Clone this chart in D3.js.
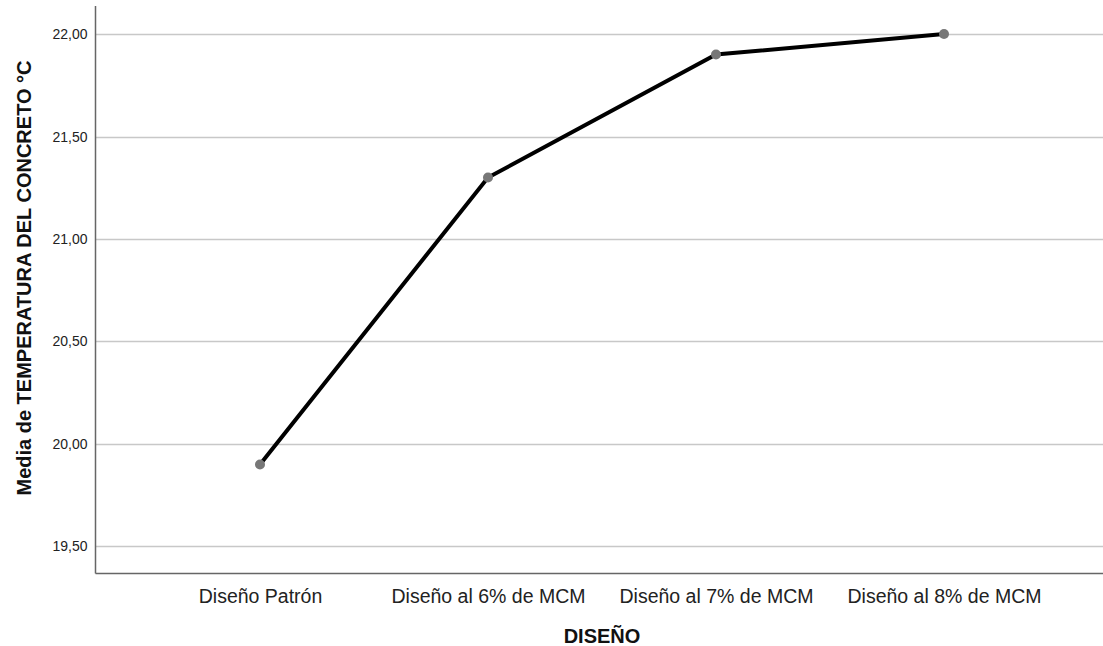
<!DOCTYPE html>
<html><head><meta charset="utf-8">
<script src="https://cdn.jsdelivr.net/npm/d3@7"></script>
<style>body{margin:0;background:#fff}svg{display:block}text{font-family:"Liberation Sans",Arial,sans-serif}</style>
</head><body><svg id="c" width="1103" height="646"></svg>
<script>
const categories = ["Diseño Patrón","Diseño al 6% de MCM","Diseño al 7% de MCM","Diseño al 8% de MCM"];
const values = [19.90, 21.30, 21.90, 22.00];
const yTicks = [19.5, 20.0, 20.5, 21.0, 21.5, 22.0];
const xTitle = "DISEÑO";
const yTitle = "Media de TEMPERATURA DEL CONCRETO °C";

const svg = d3.select("#c");
const L = 95.5, R = 1103, T = 6, B = 573.5;
const y = d3.scaleLinear().domain([19.368, 22.137]).range([B, T]);
const x = d3.scalePoint().domain(categories).range([260, 944]);

// gridlines
svg.append("g").selectAll("line").data(yTicks).join("line")
  .attr("x1", L).attr("x2", R)
  .attr("y1", d => Math.round(y(d)) + 0.5).attr("y2", d => Math.round(y(d)) + 0.5)
  .attr("stroke", "#c8c8c8").attr("stroke-width", 1.5);

// y axis
const fmt = d => d.toFixed(2).replace(".", ",");
const ya = svg.append("g").attr("transform", `translate(${L},0)`)
  .call(d3.axisLeft(y).tickValues(yTicks).tickFormat(fmt).tickSize(0).tickPadding(8));
ya.select(".domain").remove();
ya.selectAll("text").attr("font-size", 14).attr("fill", "#222").attr("font-family", "Liberation Sans, Arial, sans-serif");

// x axis labels
const xa = svg.append("g").attr("transform", `translate(0,${B})`)
  .call(d3.axisBottom(x).tickSize(0).tickPadding(0));
xa.select(".domain").remove();
xa.selectAll("text").attr("dy", null).attr("y", 29.5).attr("font-size", 19.5).attr("fill", "#222")
  .attr("font-family", "Liberation Sans, Arial, sans-serif");

// axis lines
svg.append("line").attr("x1", L).attr("x2", L).attr("y1", T).attr("y2", B).attr("stroke", "#666").attr("stroke-width", 1.5);
svg.append("line").attr("x1", L).attr("x2", R).attr("y1", B).attr("y2", B).attr("stroke", "#666").attr("stroke-width", 1.5);

// line
const data = categories.map((c, i) => ({c, v: values[i]}));
svg.append("path").datum(data)
  .attr("d", d3.line().x(d => x(d.c)).y(d => y(d.v)))
  .attr("fill", "none").attr("stroke", "#000").attr("stroke-width", 4);
svg.append("g").selectAll("circle").data(data).join("circle")
  .attr("cx", d => x(d.c)).attr("cy", d => y(d.v)).attr("r", 5).attr("fill", "#777");

// titles
svg.append("text").attr("x", 602).attr("y", 643).attr("text-anchor", "middle")
  .attr("font-size", 20).attr("font-weight", "bold").attr("fill", "#111").text(xTitle);
svg.append("text").attr("transform", "translate(31,278) rotate(-90)").attr("text-anchor", "middle")
  .attr("font-size", 20).attr("font-weight", "bold").attr("fill", "#111").text(yTitle);
</script></body></html>
